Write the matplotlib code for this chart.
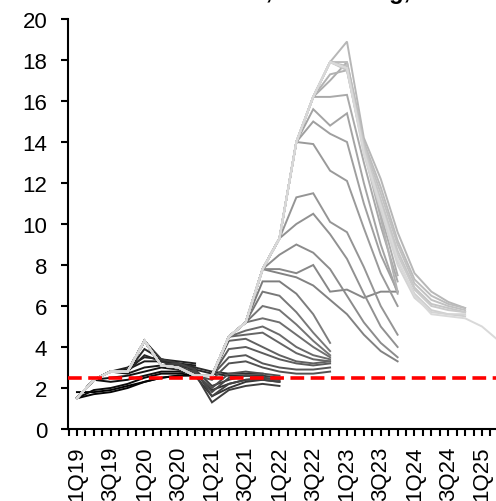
import numpy as np
import matplotlib
matplotlib.use("Agg")
import matplotlib.pyplot as plt

plt.rcParams["font.family"] = ["Liberation Sans", "DejaVu Sans"]

# Quarter labels along the x axis (every second quarter is labelled)
quarters = ["1Q19", "2Q19", "3Q19", "4Q19", "1Q20", "2Q20", "3Q20", "4Q20",
            "1Q21", "2Q21", "3Q21", "4Q21", "1Q22", "2Q22", "3Q22", "4Q22",
            "1Q23", "2Q23", "3Q23", "4Q23", "1Q24", "2Q24", "3Q24", "4Q24",
            "1Q25", "2Q25"]

# Realised CPI, y/y %, by quarter
actual = [1.5, 2.4, 2.8, 2.8, 4.3, 3.1, 3.0, 2.6,
          2.6, 4.5, 5.2, 7.8, 9.3, 14.0, 16.2, 17.9, 17.6]

# Survey vintages, oldest first: (quarters already published, forecasts that follow)
vintages_2019 = [
    (0, [1.8, 1.8, 1.9, 2.1, 2.3, 2.5, 2.6, 2.7]),
    (1, [1.7, 1.8, 2.0, 2.3, 2.5, 2.6, 2.6]),
    (1, [1.9, 2.0, 2.2, 2.5, 2.7, 2.7, 2.8]),
    (2, [2.3, 2.4, 2.6, 2.8, 2.8, 2.8]),
    (2, [2.5, 2.6, 2.8, 3.0, 2.9, 2.9]),
    (3, [2.7, 3.0, 3.1, 3.1, 3.0]),
    (3, [2.9, 3.3, 3.3, 3.2, 3.1]),
    (3, [3.0, 3.5, 3.4, 3.3, 3.2]),
]
vintages_2020 = [
    (4, [3.6, 3.3, 3.1, 2.9, 2.7, 2.6, 2.6, 2.6]),
    (4, [3.9, 3.4, 3.2, 3.0, 2.8, 2.7, 2.7, 2.7]),
    (5, [3.3, 3.0, 2.7, 1.9, 2.2, 2.4, 2.5, 2.4]),
    (5, [3.1, 2.9, 2.6, 1.6, 2.0, 2.3, 2.4, 2.3]),
    (5, [3.4, 3.2, 2.9, 2.1, 2.4, 2.6, 2.6, 2.5]),
    (6, [3.1, 2.7, 1.3, 1.9, 2.1, 2.2, 2.1]),
    (6, [3.2, 2.9, 1.6, 2.2, 2.4, 2.4, 2.3]),
    (7, [2.8, 1.8, 2.5, 2.6, 2.5, 2.4]),
    (7, [2.7, 2.0, 2.7, 2.8, 2.7, 2.6]),
]
vintages_2021 = [
    (8, [2.4, 3.2, 3.3, 3.0, 2.8, 2.7, 2.7, 2.8]),
    (8, [2.6, 3.5, 3.6, 3.2, 3.0, 2.9, 2.9, 3.0]),
    (9, [3.9, 4.0, 3.7, 3.4, 3.2, 3.1, 3.2]),
    (9, [4.3, 4.4, 4.0, 3.6, 3.3, 3.2, 3.3]),
    (10, [4.6, 4.7, 4.2, 3.7, 3.4, 3.3]),
    (10, [4.8, 5.0, 4.6, 4.0, 3.6, 3.4]),
    (11, [5.4, 5.2, 4.6, 4.0, 3.5]),
    (11, [6.0, 5.8, 5.1, 4.3, 3.6]),
    (11, [6.7, 6.5, 5.7, 4.7, 3.8]),
    (11, [7.2, 7.2, 6.6, 5.6, 4.2]),
]
vintages_2022 = [
    (12, [7.6, 7.4, 7.0, 6.3, 5.6, 4.6, 3.8, 3.3]),
    (12, [7.8, 7.6, 8.0, 6.7, 6.8, 6.4, 6.7, 6.7]),
    (12, [8.5, 9.0, 8.6, 7.8, 6.5, 5.2, 4.2, 3.5]),
    (13, [10.0, 10.5, 9.5, 8.3, 6.6, 5.0, 4.0]),
    (13, [11.3, 11.5, 10.1, 9.6, 7.9, 6.0, 4.6]),
    (14, [13.9, 12.6, 12.1, 9.8, 7.6, 6.0]),
    (14, [15.0, 14.4, 14.0, 11.0, 8.5, 6.7]),
    (14, [15.6, 14.8, 15.4, 12.0, 9.0, 6.6]),
    (15, [16.2, 16.3, 13.0, 9.9, 7.2]),
    (15, [17.0, 17.9, 14.0, 10.5, 7.5]),
    (15, [17.3, 17.5, 13.6, 10.3, 6.7]),
]
vintages_2023 = [
    (16, [18.9, 14.2, 12.2, 9.6, 7.6, 6.7, 6.2, 5.9]),
    (16, [17.9, 14.0, 11.8, 9.2, 7.3, 6.5, 6.1, 5.9]),
    (16, [17.7, 13.9, 11.5, 9.0, 7.1, 6.3, 6.0, 5.8]),
    (16, [17.5, 13.7, 11.2, 8.7, 6.9, 6.1, 5.9, 5.7]),
    (17, [13.8, 11.0, 8.5, 6.8, 6.0, 5.8, 5.7]),
    (17, [13.6, 10.8, 8.2, 6.6, 5.8, 5.6, 5.5]),
    (17, [13.4, 10.7, 8.0, 6.4, 5.7, 5.6, 5.6]),
    (17, [13.5, 10.9, 8.3, 6.5, 5.6, 5.5, 5.4, 5.0, 4.3]),
]
vintages = vintages_2019 + vintages_2020 + vintages_2021 + vintages_2022 + vintages_2023

target = 2.5

fig = plt.figure(figsize=(4.96, 5.02), dpi=100)
ax = fig.add_axes([68 / 496, 72 / 502, 428 / 496, 410 / 502])

n_v = len(vintages)
for k, (known, fc) in enumerate(vintages):
    values = actual[:known] + fc
    x = np.arange(len(values))
    shade = 0.0 + 0.85 * k / (n_v - 1)
    ax.plot(x, values, color=(shade, shade, shade), lw=1.4, solid_joinstyle="miter",
            zorder=2 + k * 0.01)

ax.axhline(target, color="#ff0000", lw=2.6, dashes=(3.8, 1.8), zorder=5)

ax.set_ylim(0, 20)
ax.set_xlim(-0.53, 24.83)
ax.set_yticks(np.arange(0, 21, 2))
major = np.arange(0, 25, 2)
ax.set_xticks(major)
ax.set_xticklabels([quarters[i] for i in major], rotation=90, va="top", ha="center")
ax.set_xticks(np.arange(-0.5, 25, 0.5), minor=True)

for s in ["top", "right"]:
    ax.spines[s].set_visible(False)
for s in ["left", "bottom"]:
    ax.spines[s].set_linewidth(1.5)
    ax.spines[s].set_color("black")

ax.tick_params(axis="y", which="major", length=5, width=1.5, direction="out",
               labelsize=16, pad=10)
ax.tick_params(axis="x", which="both", length=5, width=1.5, direction="out",
               labelsize=16, pad=7)

fig.text(438 / 496, 1 + 1 / 502, "Poland CPI forecasts, Bloomberg, %",
         ha="right", va="baseline", fontsize=17, fontweight="bold")

fig.savefig("out.png", dpi=100)
